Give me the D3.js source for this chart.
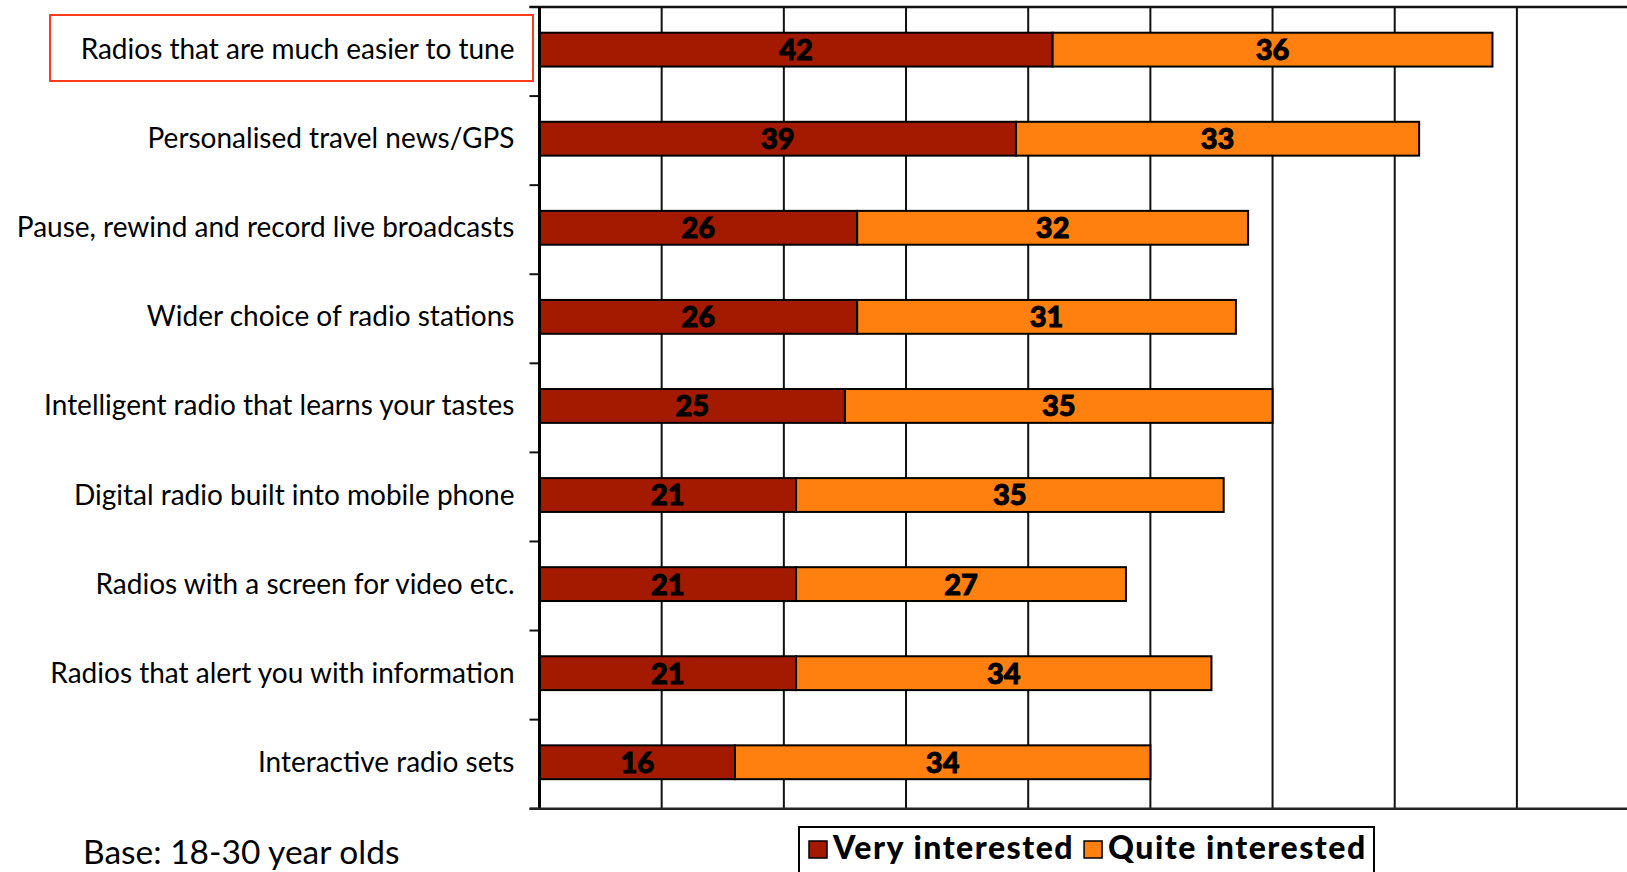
<!DOCTYPE html>
<html lang="en">
<head>
  <meta charset="UTF-8">
  <title>Interest in radio features</title>
  <script src="https://d3js.org/d3.v7.min.js"></script>
  <style>
    body { margin: 0; background: #fff; }
    text { font-family: Lato, "Open Sans", sans-serif; fill: #000; }
    .cat { font-size: 28px; }
    .val { font-size: 29px; font-weight: 900; stroke: #000; stroke-width: 0.9px; }
    .leg { font-size: 32px; font-weight: 900; letter-spacing: 1.5px; }
    .base { font-size: 33.5px; }
  </style>
</head>
<body>
  <div id="chart"></div>
  <script>
    const width = 1627;
    const height = 872;

    // categories and series (percent of 18-30 year olds)
    const categories = [
      "Radios that are much easier to tune",
      "Personalised travel news/GPS",
      "Pause, rewind and record live broadcasts",
      "Wider choice of radio stations",
      "Intelligent radio that learns your tastes",
      "Digital radio built into mobile phone",
      "Radios with a screen for video etc.",
      "Radios that alert you with information",
      "Interactive radio sets"
    ];
    const veryInterested = [42, 39, 26, 26, 25, 21, 21, 21, 16];
    const quiteInterested = [36, 33, 32, 31, 35, 35, 27, 34, 34];
    const seriesNames = ["Very interested", "Quite interested"];
    const colors = ["#a31a00", "#ff800e"];
    const gridTicks = [10, 20, 30, 40, 50, 60, 70, 80, 90];

    const plotLeft = 539.5, plotTop = 7, plotBottom = 808.7;

    const svg = d3.select("#chart").append("svg")
      .attr("width", width)
      .attr("height", height);

    const x = d3.scaleLinear().domain([0, 90]).range([plotLeft, plotLeft + 90 * 12.2175]);
    const y = d3.scaleBand().domain(categories).range([plotTop, plotBottom])
      .paddingInner(0.62).paddingOuter(0.31);
    const shift = -1.9;

    // stack the two series
    const rows = categories.map((c, i) => ({ cat: c, very: veryInterested[i], quite: quiteInterested[i] }));
    const stack = d3.stack().keys(["very", "quite"])(rows);

    // grid lines
    svg.append("g").selectAll("line")
      .data(gridTicks)
      .join("line")
      .attr("x1", d => x(d)).attr("x2", d => x(d))
      .attr("y1", plotTop).attr("y2", plotBottom)
      .attr("stroke", "#111").attr("stroke-width", 2);

    // top border
    svg.append("line")
      .attr("x1", plotLeft - 10).attr("x2", width)
      .attr("y1", plotTop).attr("y2", plotTop)
      .attr("stroke", "#111").attr("stroke-width", 2.5);

    // highlight box behind the first label
    svg.append("rect")
      .attr("x", 50).attr("y", 15)
      .attr("width", 483).attr("height", 66)
      .attr("fill", "#fff")
      .attr("stroke", "#ff3c1e").attr("stroke-width", 2);

    // bars
    const step = y.step();
    svg.append("g").selectAll("g")
      .data(stack)
      .join("g")
      .attr("fill", (d, i) => colors[i])
      .selectAll("rect")
      .data(d => d)
      .join("rect")
      .attr("x", d => x(d[0]))
      .attr("y", d => y(d.data.cat) + shift)
      .attr("width", d => x(d[1]) - x(d[0]))
      .attr("height", y.bandwidth())
      .attr("stroke", "#000").attr("stroke-width", 2);

    // value labels
    svg.append("g").selectAll("g")
      .data(stack)
      .join("g")
      .selectAll("text")
      .data(d => d)
      .join("text")
      .attr("class", "val")
      .attr("x", d => (x(d[0]) + x(d[1])) / 2)
      .attr("y", d => y(d.data.cat) + shift + y.bandwidth() / 2)
      .attr("dy", "0.36em")
      .attr("text-anchor", "middle")
      .text(d => d[1] - d[0]);

    // y axis: category labels, ticks between bands
    const yAxis = d3.axisLeft(y).tickSize(0).tickPadding(25);
    const ga = svg.append("g").attr("transform", `translate(${plotLeft},0)`).call(yAxis);
    ga.attr("font-family", null).attr("font-size", null);
    ga.select(".domain").remove();
    ga.selectAll("text").attr("class", "cat")
      .attr("dy", "0.34em")
      .attr("y", shift);

    const bounds = d3.range(categories.length + 1).map(i => plotTop + i * step);
    svg.append("g").selectAll("line")
      .data(bounds)
      .join("line")
      .attr("x1", plotLeft - 10).attr("x2", plotLeft)
      .attr("y1", d => d).attr("y2", d => d)
      .attr("stroke", "#111").attr("stroke-width", 2);

    svg.append("line")
      .attr("x1", plotLeft).attr("x2", plotLeft)
      .attr("y1", plotTop).attr("y2", plotBottom)
      .attr("stroke", "#000").attr("stroke-width", 3);
    svg.append("line")
      .attr("x1", plotLeft - 10).attr("x2", width)
      .attr("y1", plotBottom).attr("y2", plotBottom)
      .attr("stroke", "#222").attr("stroke-width", 2.5);

    // legend
    const leg = svg.append("g");
    leg.append("rect")
      .attr("x", 799).attr("y", 827)
      .attr("width", 575).attr("height", 60)
      .attr("fill", "#fff").attr("stroke", "#000").attr("stroke-width", 2);
    let lx = 809;
    seriesNames.forEach((name, i) => {
      leg.append("rect")
        .attr("x", lx).attr("y", 841)
        .attr("width", 18).attr("height", 17)
        .attr("fill", colors[i]).attr("stroke", "#000").attr("stroke-width", 1.5);
      const t = leg.append("text")
        .attr("class", "leg")
        .attr("x", lx + 24).attr("y", 859)
        .text(name);
      lx += 24 + t.node().getComputedTextLength() + 10;
    });

    svg.append("text")
      .attr("class", "base")
      .attr("x", 83).attr("y", 864)
      .text("Base: 18-30 year olds");
  </script>
</body>
</html>
